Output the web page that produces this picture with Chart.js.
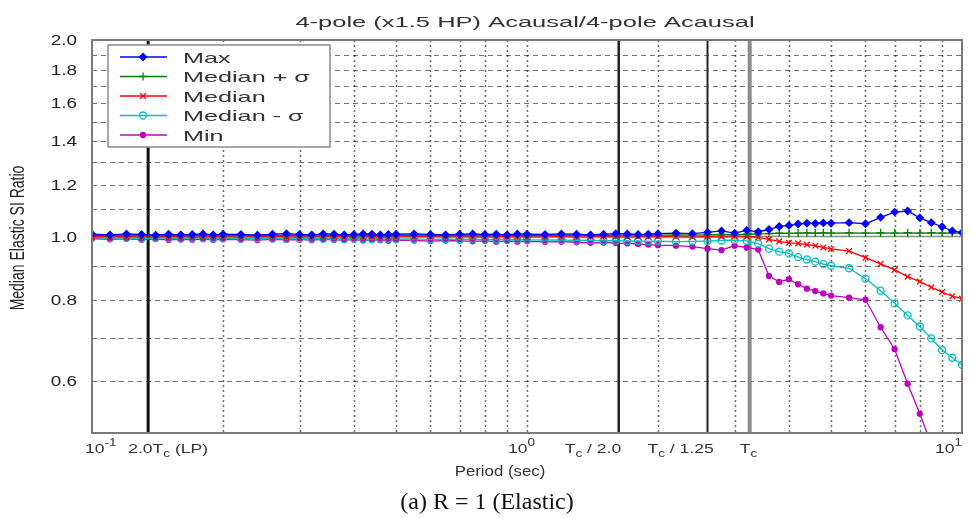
<!DOCTYPE html>
<html>
<head>
<meta charset="utf-8">
<script src="https://cdn.jsdelivr.net/npm/chart.js@4.4.0/dist/chart.umd.min.js"></script>
<style>
  html, body { margin: 0; padding: 0; background: #fff; }
  #wrap { width: 975px; height: 518px; }
</style>
</head>
<body>
<div id="wrap"><canvas id="ratio-chart" width="975" height="518"></canvas></div>
<script>
// periods (sec)
var periods = [
  0.1, 0.11, 0.12, 0.13, 0.14, 0.15, 0.16, 0.17, 0.18, 0.19,
  0.2, 0.22, 0.24, 0.26, 0.28, 0.3, 0.32, 0.34, 0.36, 0.38,
  0.4, 0.42, 0.44, 0.46, 0.48, 0.5, 0.55, 0.6, 0.65, 0.7,
  0.75, 0.8, 0.85, 0.9, 0.95, 1.0, 1.1, 1.2, 1.3, 1.4,
  1.5, 1.6, 1.7, 1.8, 1.9, 2.0, 2.2, 2.4, 2.6, 2.8,
  3.0, 3.2,
  3.4, 3.6, 3.8, 4.0, 4.2, 4.4, 4.6, 4.8, 5.0, 5.5,
  6.0, 6.5, 7.0, 7.5, 8.0, 8.5, 9.0, 9.5, 10.0
];

var maxRatio = [
  1.008, 1.006, 1.009, 1.007, 1.005, 1.008, 1.006, 1.007, 1.009, 1.006,
  1.008, 1.007, 1.005, 1.008, 1.010, 1.007, 1.006, 1.009, 1.008, 1.006,
  1.007, 1.009, 1.008, 1.006, 1.007, 1.008, 1.009, 1.007, 1.006, 1.008,
  1.009, 1.007, 1.008, 1.006, 1.009, 1.008, 1.007, 1.009, 1.008, 1.006,
  1.008, 1.010, 1.009, 1.007, 1.008, 1.010, 1.012, 1.010, 1.015, 1.020,
  1.012, 1.022,
  1.017, 1.025, 1.036, 1.040, 1.045, 1.048, 1.047, 1.049, 1.048, 1.050,
  1.046, 1.070, 1.090, 1.094, 1.068, 1.050, 1.035, 1.020, 1.014
];

var medPlusSigma = [
  1.004, 1.003, 1.005, 1.004, 1.003, 1.005, 1.004, 1.003, 1.005, 1.004,
  1.003, 1.005, 1.004, 1.003, 1.005, 1.004, 1.004, 1.003, 1.005, 1.004,
  1.003, 1.004, 1.005, 1.004, 1.003, 1.004, 1.005, 1.004, 1.003, 1.005,
  1.004, 1.003, 1.004, 1.005, 1.004, 1.003, 1.004, 1.005, 1.004, 1.004,
  1.005, 1.004, 1.005, 1.006, 1.004, 1.005, 1.006, 1.005, 1.006, 1.007,
  1.006, 1.008,
  1.009, 1.010, 1.012, 1.011, 1.012, 1.013, 1.012, 1.013, 1.012, 1.013,
  1.012, 1.013, 1.012, 1.013, 1.012, 1.013, 1.012, 1.013, 1.012
];

var medianRatio = [
  1.000, 0.999, 1.000, 0.998, 0.999, 1.000, 0.999, 0.998, 0.999, 1.000,
  0.999, 0.998, 0.999, 1.000, 0.999, 0.998, 0.999, 0.999, 1.000, 0.999,
  0.998, 0.999, 1.000, 0.999, 0.998, 0.999, 0.999, 1.000, 0.998, 0.999,
  0.999, 0.998, 0.999, 1.000, 0.999, 0.998, 0.999, 0.999, 0.998, 0.999,
  1.000, 0.999, 0.998, 0.999, 0.999, 1.000, 0.999, 0.998, 1.000, 0.999,
  1.000, 1.000,
  0.997, 0.990, 0.983, 0.978, 0.976, 0.972, 0.968, 0.962, 0.957, 0.950,
  0.928, 0.908, 0.889, 0.868, 0.853, 0.836, 0.822, 0.810, 0.803
];

var medMinusSigma = [
  0.996, 0.994, 0.995, 0.993, 0.995, 0.994, 0.993, 0.995, 0.994, 0.993,
  0.994, 0.992, 0.994, 0.993, 0.992, 0.994, 0.993, 0.992, 0.993, 0.991,
  0.993, 0.992, 0.991, 0.993, 0.992, 0.991, 0.992, 0.990, 0.991, 0.990,
  0.991, 0.989, 0.990, 0.988, 0.989, 0.988, 0.987, 0.988, 0.986, 0.987,
  0.985, 0.986, 0.984, 0.985, 0.983, 0.984, 0.982, 0.983, 0.984, 0.986,
  0.987, 0.985,
  0.975, 0.958, 0.948, 0.942, 0.930, 0.922, 0.915, 0.907, 0.902, 0.894,
  0.862, 0.826, 0.790, 0.757, 0.728, 0.698, 0.670, 0.652, 0.636
];

var minRatio = [
  0.993, 0.990, 0.992, 0.989, 0.991, 0.988, 0.990, 0.989, 0.991, 0.988,
  0.990, 0.989, 0.987, 0.990, 0.988, 0.989, 0.987, 0.990, 0.988, 0.987,
  0.989, 0.986, 0.988, 0.987, 0.985, 0.987, 0.986, 0.984, 0.986, 0.985,
  0.983, 0.985, 0.982, 0.984, 0.982, 0.983, 0.981, 0.982, 0.980, 0.978,
  0.979, 0.977, 0.976, 0.974, 0.972, 0.970, 0.968, 0.965, 0.958, 0.953,
  0.968, 0.962,
  0.955, 0.870, 0.852, 0.860, 0.845, 0.832, 0.825, 0.818, 0.812, 0.806,
  0.800, 0.726, 0.672, 0.595, 0.535, 0.480, 0.450, 0.420, 0.400
];

var seriesNames = ["Max", "Median + \u03c3", "Median", "Median - \u03c3", "Min"];

// axes
var xMin = 0.1, xMax = 10;
var yMin = 0.5, yMax = 2.0;
var yTicks = [0.6, 0.8, 1.0, 1.2, 1.4, 1.6, 1.8, 2.0];
var yGrid = [0.6, 0.7, 0.8, 0.9, 1.1, 1.2, 1.3, 1.4, 1.5, 1.6, 1.7, 1.8, 1.9];
var xGrid = [0.2, 0.3, 0.4, 0.5, 0.6, 0.7, 0.8, 0.9, 1, 2, 3, 4, 5, 6, 7, 8, 9];

// reference periods
var Tc = 3.25;
var lpPeriod = 0.1346;

// x tick labels: [value, start offset, segments]
var xTickLabels = [
  [0.1, -7, [["10", "n"], ["-1", "sup"]]],
  [lpPeriod, -20, [["2.0T", "n"], ["c", "sub"], [" (LP)", "n"]]],
  [1, -19, [["10", "n"], ["0", "sup"]]],
  [Tc / 2.0, -54, [["T", "n"], ["c", "sub"], [" / 2.0", "n"]]],
  [Tc / 1.25, -60, [["T", "n"], ["c", "sub"], [" / 1.25", "n"]]],
  [Tc, -10, [["T", "n"], ["c", "sub"]]],
  [10, -27, [["10", "n"], ["1", "sup"]]]
];

var refLines = [
  { value: lpPeriod, color: "#111", width: 3 },
  { value: Tc / 2.0, color: "#222", width: 2.5 },
  { value: Tc / 1.25, color: "#222", width: 2 },
  { value: Tc, color: "#8c8c8c", width: 4 }
];

var FONT = "'Liberation Sans', Arial, sans-serif";

function pts(vals) {
  return periods.map(function (p, i) { return { x: p, y: vals[i] }; });
}

function txt(ctx, s, x, y, o) {
  ctx.save();
  ctx.font = o.font;
  ctx.fillStyle = o.color || "#333";
  ctx.textBaseline = o.baseline || "alphabetic";
  ctx.textAlign = "left";
  var sx = o.sx || 1;
  var w = ctx.measureText(s).width * sx;
  var x0 = o.align === "center" ? x - w / 2 : (o.align === "right" ? x - w : x);
  ctx.translate(x0, y);
  ctx.scale(sx, 1);
  ctx.fillText(s, 0, 0);
  ctx.restore();
  return w;
}

function richLabel(ctx, segs, x, y) {
  var cx = x;
  segs.forEach(function (sg) {
    if (sg[1] === "sup") {
      cx += txt(ctx, sg[0], cx, y - 7, { font: "10px " + FONT, sx: 1.35, color: "#333" });
    } else if (sg[1] === "sub") {
      cx += txt(ctx, sg[0], cx, y + 4, { font: "10px " + FONT, sx: 1.35, color: "#333" });
    } else {
      cx += txt(ctx, sg[0], cx, y, { font: "13px " + FONT, sx: 1.35, color: "#333" });
    }
  });
}

var backdrop = {
  id: "backdrop",
  beforeDatasetsDraw: function (chart) {
    var ctx = chart.ctx, a = chart.chartArea;
    var xs = chart.scales.x, ys = chart.scales.y;
    ctx.save();
    // horizontal dashed grid
    ctx.lineWidth = 1;
    ctx.strokeStyle = "rgba(0,0,0,0.55)";
    ctx.setLineDash([5, 4]);
    yGrid.forEach(function (v) {
      var y = Math.round(ys.getPixelForValue(v)) + 0.5;
      ctx.beginPath(); ctx.moveTo(a.left, y); ctx.lineTo(a.right, y); ctx.stroke();
    });
    // vertical dotted grid
    ctx.setLineDash([2, 3]);
    ctx.strokeStyle = "rgba(0,0,0,0.6)";
    ctx.lineWidth = 1.5;
    xGrid.forEach(function (v) {
      var x = Math.round(xs.getPixelForValue(v)) + 0.5;
      ctx.beginPath(); ctx.moveTo(x, a.top); ctx.lineTo(x, a.bottom); ctx.stroke();
    });
    ctx.setLineDash([]);
    // unity line
    ctx.strokeStyle = "#8a8a8a";
    ctx.lineWidth = 1.5;
    var y1 = ys.getPixelForValue(1.0);
    ctx.beginPath(); ctx.moveTo(a.left, y1); ctx.lineTo(a.right, y1); ctx.stroke();
    // reference periods
    refLines.forEach(function (r) {
      var x = xs.getPixelForValue(r.value);
      ctx.strokeStyle = r.color; ctx.lineWidth = r.width;
      ctx.beginPath(); ctx.moveTo(x, a.top); ctx.lineTo(x, a.bottom); ctx.stroke();
    });
    ctx.restore();
  },
  afterDatasetsDraw: function (chart) {
    var ctx = chart.ctx, a = chart.chartArea;
    var xs = chart.scales.x, ys = chart.scales.y;
    ctx.save();
    // axes box
    ctx.strokeStyle = "#7a7a7a";
    ctx.lineWidth = 2;
    ctx.strokeRect(a.left, a.top, a.right - a.left, a.bottom - a.top);

    // legend
    var lx = 108, ly = 45, lw = 222, lh = 102;
    ctx.fillStyle = "#fff";
    ctx.fillRect(lx, ly, lw, lh);
    ctx.strokeStyle = "#8a8a8a";
    ctx.lineWidth = 1.5;
    ctx.strokeRect(lx, ly, lw, lh);
    chart.data.datasets.forEach(function (ds, i) {
      var yy = 57 + i * 19.5;
      ctx.strokeStyle = ds.borderColor;
      ctx.lineWidth = 1.5;
      ctx.beginPath(); ctx.moveTo(120, yy); ctx.lineTo(167, yy); ctx.stroke();
      ctx.fillStyle = ds.pointBackgroundColor;
      ctx.strokeStyle = ds.borderColor;
      ctx.lineWidth = ds.pointBorderWidth;
      Chart.helpers.drawPoint(ctx, { pointStyle: ds.pointStyle, radius: ds.pointRadius, borderWidth: ds.pointBorderWidth, rotation: 0 }, 143, yy);
      txt(ctx, seriesNames[i], 183, yy + 5.5, { font: "15px " + FONT, sx: 1.68, color: "#333" });
    });

    // y tick labels
    yTicks.forEach(function (v) {
      txt(ctx, v.toFixed(1), 77, ys.getPixelForValue(v) + 5, { font: "14px " + FONT, sx: 1.35, align: "right", color: "#222" });
    });
    // x tick labels
    xTickLabels.forEach(function (t) {
      richLabel(ctx, t[2], xs.getPixelForValue(t[0]) + t[1], 453);
    });

    // titles
    txt(ctx, "4-pole (x1.5 HP) Acausal/4-pole Acausal", 525, 27, { font: "15px " + FONT, sx: 1.7, align: "center", color: "#333" });
    txt(ctx, "Period (sec)", 500, 476, { font: "14px " + FONT, sx: 1.2, align: "center", color: "#333" });
    txt(ctx, "(a) R = 1 (Elastic)", 487, 509, { font: "24px 'Liberation Serif', 'Times New Roman', serif", align: "center", color: "#111" });

    // y axis title (rotated)
    ctx.translate(24, 238);
    ctx.scale(1.4, 1);
    ctx.rotate(-Math.PI / 2);
    ctx.font = "14px " + FONT;
    ctx.fillStyle = "#222";
    ctx.textAlign = "center";
    ctx.textBaseline = "alphabetic";
    ctx.fillText("Median Elastic SI Ratio", 0, 0);
    ctx.restore();
  }
};

var ctx = document.getElementById("ratio-chart").getContext("2d");

function series(label, vals, color, style, radius, fill) {
  return {
    label: label,
    data: pts(vals),
    borderColor: color,
    backgroundColor: color,
    borderWidth: 1.3,
    pointStyle: style,
    pointRadius: radius,
    pointBorderWidth: 1.3,
    pointBackgroundColor: fill ? color : "rgba(0,0,0,0)",
    pointBorderColor: color,
    tension: 0
  };
}

new Chart(ctx, {
  type: "line",
  data: {
    datasets: [
      series(seriesNames[0], maxRatio, "#0000ff", "rectRot", 3.5, true),
      series(seriesNames[1], medPlusSigma, "#008000", "cross", 4, false),
      series(seriesNames[2], medianRatio, "#ff0000", "crossRot", 4, false),
      series(seriesNames[3], medMinusSigma, "#00bfbf", "circle", 3.5, false),
      series(seriesNames[4], minRatio, "#bf00bf", "circle", 2.5, true)
    ]
  },
  options: {
    responsive: false,
    animation: false,
    layout: { padding: { left: 92, right: 13, top: 40, bottom: 85 } },
    plugins: {
      legend: { display: false },
      title: { display: false },
      tooltip: { enabled: false }
    },
    scales: {
      x: { type: "logarithmic", min: xMin, max: xMax, bounds: "data", display: false },
      y: { type: "logarithmic", min: yMin, max: yMax, bounds: "data", display: false }
    }
  },
  plugins: [backdrop]
});
</script>
</body>
</html>
